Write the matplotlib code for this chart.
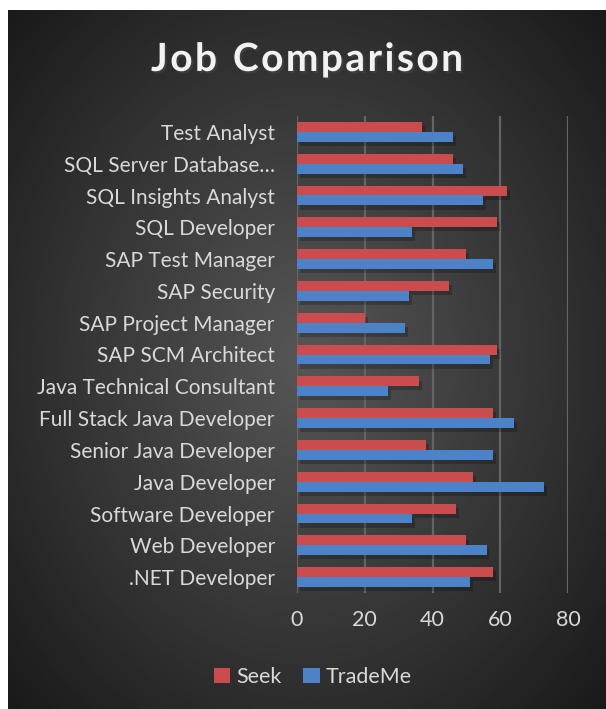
import matplotlib
matplotlib.use('Agg')
import matplotlib.pyplot as plt
import matplotlib.patheffects as pe
import numpy as np

# data, bottom to top as in the chart
jobs = ['.NET Developer', 'Web Developer', 'Software Developer', 'Java Developer',
        'Senior Java Developer', 'Full Stack Java Developer', 'Java Technical Consultant',
        'SAP SCM Architect', 'SAP Project Manager', 'SAP Security', 'SAP Test Manager',
        'SQL Developer', 'SQL Insights Analyst', 'SQL Server Database\u2026', 'Test Analyst']
seek = [58, 50, 47, 52, 38, 58, 36, 59, 20, 45, 50, 59, 62, 46, 37]
trademe = [51, 56, 34, 73, 58, 64, 27, 57, 32, 33, 58, 34, 55, 49, 46]
x_ticks = [0, 20, 40, 60, 80]
title = 'Job Comparison'

plt.rcParams['font.family'] = ['Lato', 'DejaVu Sans']

W, H = 606, 709
fig = plt.figure(figsize=(W / 100, H / 100), dpi=100)
fig.patch.set_facecolor('white')

# dark panel with radial gradient
bg = fig.add_axes([8 / W, 0, 1 - 8 / W, 1 - 10 / H])
yy, xx = np.mgrid[0:1:300j, 0:1:300j]
r = np.sqrt((xx - 0.5) ** 2 * 1.1 + (yy - 0.5) ** 2)
shade = 0.34 - 0.33 * r
bg.imshow(shade, cmap='gray', vmin=0, vmax=1, aspect='auto', extent=[0, 1, 0, 1])
bg.set_axis_off()

ax = fig.add_axes([297 / W, 1 - 593 / H, (568 - 297) / W, (593 - 116) / H])
ax.patch.set_alpha(0)

y = np.arange(len(jobs))
h = 0.31
shadow = [pe.SimplePatchShadow(offset=(2, -3), alpha=0.22, shadow_rgbFace='black'), pe.Normal()]
b1 = ax.barh(y + h / 2, seek, height=h, color='#cb4c4c', label='Seek', zorder=3)
b2 = ax.barh(y - h / 2, trademe, height=h, color='#4b82c8', label='TradeMe', zorder=3)
for b in list(b1) + list(b2):
    b.set_path_effects(shadow)

ax.set_xlim(0, 80)
ax.set_ylim(-0.5, len(jobs) - 0.5)
ax.set_xticks(x_ticks)
ax.set_yticks(y)
ax.set_yticklabels(jobs)
ax.tick_params(axis='y', length=0, pad=16, labelsize=15, labelcolor='#d9d9d9')
ax.tick_params(axis='x', length=0, pad=12, labelsize=15.5, labelcolor='#d9d9d9')
ax.grid(axis='x', color='#646464', linewidth=1.6, zorder=0)
for s in ax.spines.values():
    s.set_visible(False)

# title drawn letter by letter to get the wide spacing
renderer = fig.canvas.get_renderer()
tkw = dict(fontsize=28, fontweight='bold', color='#f2f2f2', va='baseline', ha='left',
           path_effects=[pe.withSimplePatchShadow(offset=(1.5, -1.5), alpha=0.5)])
widths = []
for ch in title:
    t = fig.text(0, 0, ch if ch != ' ' else 'n', **tkw)
    widths.append(t.get_window_extent(renderer).width * (0.5 if ch == ' ' else 1))
    t.remove()
title_w = 312
spacing = (title_w - sum(widths)) / (len(title) - 1)
x0 = 307 - title_w / 2
for ch, w in zip(title, widths):
    if ch != ' ':
        fig.text(x0 / W, 1 - 71 / H, ch, **tkw)
    x0 += w + spacing

leg = fig.legend(handles=[b1, b2], labels=['Seek', 'TradeMe'], loc='center',
                 bbox_to_anchor=(313 / W, 1 - 677 / H), ncol=2, frameon=False,
                 fontsize=15.5, labelcolor='#d9d9d9', handlelength=0.75, handleheight=0.75,
                 handletextpad=0.3, columnspacing=1.0)
for hd in leg.legend_handles:
    hd.set_path_effects([])

fig.savefig('out.png', dpi=100, facecolor=fig.get_facecolor())
